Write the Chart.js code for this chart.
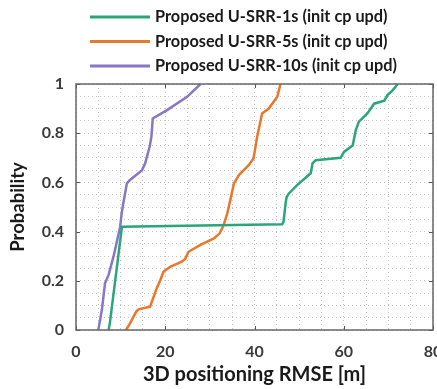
<!DOCTYPE html>
<html>
<head>
<meta charset="utf-8">
<script src="https://cdn.jsdelivr.net/npm/chart.js@4/dist/chart.umd.min.js"></script>
<style>
  html, body { margin: 0; padding: 0; background: #fff; }
  #wrap { width: 437px; height: 389px; }
</style>
</head>
<body>
<div id="wrap"><canvas id="cdfChart" width="437" height="389"></canvas></div>
<script>
// -----------------------------
// Data
// -----------------------------
const seriesLabels = [
    'Proposed U-SRR-1s (init cp upd)',
    'Proposed U-SRR-5s (init cp upd)',
    'Proposed U-SRR-10s (init cp upd)'
];

const rmse1s = [7.3, 7.6, 10.3, 46.2, 46.5, 47.0, 47.2, 47.7, 49.6, 52.6, 53.0, 53.7, 59.3, 60.1, 62.0, 62.7, 63.4, 65.3, 66.8, 69.1, 69.8, 70.9, 72.1];
const prob1s = [0, 0.03, 0.42, 0.43, 0.44, 0.52, 0.54, 0.555, 0.59, 0.637, 0.677, 0.69, 0.70, 0.725, 0.75, 0.813, 0.847, 0.88, 0.92, 0.932, 0.955, 0.973, 1.0];

const rmse5s = [11.2, 12.1, 13.5, 14.0, 16.6, 17.4, 18.1, 18.9, 19.6, 21.1, 23.7, 24.5, 25.2, 27.9, 30.9, 32.2, 33.1, 33.9, 34.6, 35.4, 36.5, 38.7, 39.8, 40.6, 41.7, 43.2, 45.1, 45.5, 45.8];
const prob5s = [0, 0.027, 0.075, 0.084, 0.095, 0.135, 0.17, 0.203, 0.237, 0.257, 0.278, 0.29, 0.318, 0.346, 0.372, 0.393, 0.427, 0.474, 0.53, 0.596, 0.63, 0.67, 0.698, 0.786, 0.88, 0.90, 0.948, 0.976, 1.0];

const rmse10s = [5.0, 5.8, 6.5, 7.3, 8.4, 9.9, 10.2, 10.6, 11.4, 12.1, 14.8, 15.5, 16.5, 16.9, 17.2, 20.4, 24.9, 27.9];
const prob10s = [0, 0.081, 0.19, 0.224, 0.298, 0.42, 0.47, 0.515, 0.596, 0.61, 0.65, 0.678, 0.745, 0.786, 0.86, 0.894, 0.948, 1.0];

const xMajorTicks = [0, 20, 40, 60, 80];
const yMajorTicks = [0, 0.2, 0.4, 0.6, 0.8, 1];

const seriesColors = ['#2ba57a', '#e8782a', '#8777c4'];

function toPoints(xs, ys) {
    return xs.map((x, i) => ({ x: x, y: ys[i] }));
}

// -----------------------------
// Plugins: legend block + inward box ticks
// -----------------------------
const legendBlock = {
    id: 'legendBlock',
    afterDraw(chart) {
        const c = chart.ctx;
        c.save();
        c.font = 'bold 16.3px Lato';
        c.textBaseline = 'middle';
        c.fillStyle = '#1a1a1a';
        chart.data.datasets.forEach((ds, i) => {
            const y = 17 + i * 24.5;
            c.strokeStyle = ds.borderColor;
            c.lineWidth = 3;
            c.beginPath();
            c.moveTo(90, y);
            c.lineTo(150, y);
            c.stroke();
            c.fillText(ds.label, 155, y);
        });
        c.restore();
    }
};

const boxTicks = {
    id: 'boxTicks',
    afterDatasetsDraw(chart) {
        const c = chart.ctx;
        const a = chart.chartArea;
        const xs = chart.scales.x, ys = chart.scales.y;
        c.save();
        c.strokeStyle = '#555';
        c.lineWidth = 1;
        c.beginPath();
        xMajorTicks.forEach(v => {
            const px = Math.round(xs.getPixelForValue(v)) + 0.5;
            c.moveTo(px, a.bottom); c.lineTo(px, a.bottom - 4);
            c.moveTo(px, a.top); c.lineTo(px, a.top + 4);
        });
        yMajorTicks.forEach(v => {
            const py = Math.round(ys.getPixelForValue(v)) + 0.5;
            c.moveTo(a.left, py); c.lineTo(a.left + 4, py);
            c.moveTo(a.right, py); c.lineTo(a.right - 4, py);
        });
        c.stroke();
        c.strokeStyle = '#666';
        c.lineWidth = 1.5;
        c.strokeRect(a.left, a.top, a.right - a.left, a.bottom - a.top);
        c.restore();
    }
};

// -----------------------------
// Chart
// -----------------------------
const ctx = document.getElementById('cdfChart').getContext('2d');
const cdfChart = new Chart(ctx, {
    type: 'scatter',
    data: {
        datasets: [
            { label: seriesLabels[0], data: toPoints(rmse1s, prob1s), borderColor: seriesColors[0] },
            { label: seriesLabels[1], data: toPoints(rmse5s, prob5s), borderColor: seriesColors[1] },
            { label: seriesLabels[2], data: toPoints(rmse10s, prob10s), borderColor: seriesColors[2] }
        ].map(d => Object.assign(d, {
            showLine: true, pointRadius: 0, borderWidth: 2.5, tension: 0, fill: false,
            backgroundColor: d.borderColor
        }))
    },
    options: {
        responsive: false,
        animation: false,
        layout: { padding: { top: 84, right: 4, bottom: 0, left: 0 } },
        plugins: {
            legend: { display: false },
            tooltip: { enabled: false }
        },
        scales: {
            x: {
                type: 'linear',
                min: 0, max: 80,
                afterFit(scale) { scale.height = 59; scale.paddingRight = 0; scale.paddingLeft = 0; },
                border: { display: false, dash: [1, 3] },
                grid: { color: '#c4c4c4', lineWidth: 1, drawTicks: false },
                ticks: {
                    stepSize: 5, autoSkip: false, maxRotation: 0, padding: 12,
                    color: '#3a3a3a', font: { family: 'Lato', weight: 'bold', size: 16 },
                    callback: v => (v % 20 === 0 ? String(v) : '')
                },
                title: {
                    display: true, text: '3D positioning RMSE [m]', color: '#1a1a1a',
                    font: { family: 'Lato', weight: 'bold', size: 20 }, padding: { top: 0, bottom: 2 }
                }
            },
            y: {
                type: 'linear',
                min: 0, max: 1,
                afterFit(scale) { scale.width = 76; scale.paddingTop = 0; scale.paddingBottom = 0; },
                border: { display: false, dash: [1, 3] },
                grid: { color: '#c4c4c4', lineWidth: 1, drawTicks: false },
                ticks: {
                    stepSize: 0.05, autoSkip: false, padding: 12,
                    color: '#3a3a3a', font: { family: 'Lato', weight: 'bold', size: 16 },
                    callback: v => {
                        const k = Math.round(v * 100);
                        return k % 20 === 0 ? String(k / 100) : '';
                    }
                },
                title: {
                    display: true, text: 'Probability', color: '#1a1a1a',
                    font: { family: 'Lato', weight: 'bold', size: 18.5 }, padding: { top: 7, bottom: 0 }
                }
            }
        }
    },
    plugins: [legendBlock, boxTicks]
});
</script>
</body>
</html>
